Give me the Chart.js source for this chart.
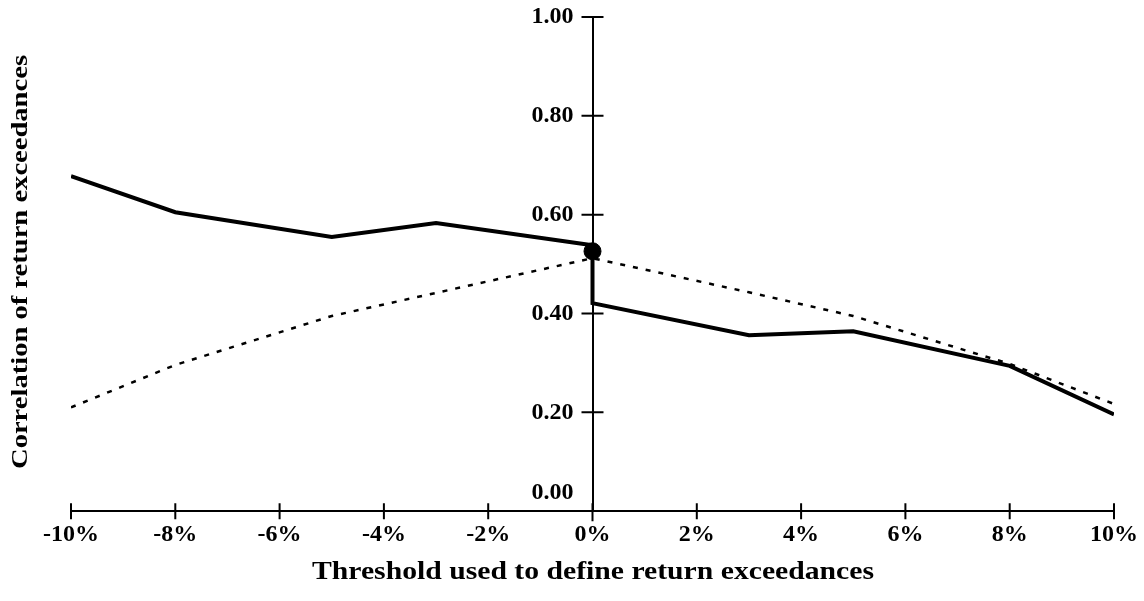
<!DOCTYPE html>
<html>
<head>
<meta charset="utf-8">
<script src="https://cdn.jsdelivr.net/npm/chart.js@4/dist/chart.umd.min.js"></script>
<style>
  html, body { margin: 0; padding: 0; background: #fff; }
  #wrap { width: 1144px; height: 601px; }
</style>
</head>
<body>
<div id="wrap"><canvas id="chart" width="1144" height="601"></canvas></div>
<script>
// data
var solidX = [-10, -8, -5, -3, 0, 0, 3, 5, 8, 10];
var solidY = [0.678, 0.605, 0.555, 0.583, 0.538, 0.421, 0.356, 0.364, 0.294, 0.196];
var dottedX = [-10, -8, -5, 0, 3, 5, 8, 10];
var dottedY = [0.21, 0.296, 0.395, 0.512, 0.443, 0.395, 0.298, 0.217];
var dotX = [0];
var dotY = [0.526];
var xTicks = [-10, -8, -6, -4, -2, 0, 2, 4, 6, 8, 10];
var yTicks = [0, 0.2, 0.4, 0.6, 0.8, 1.0];
var xTitle = 'Threshold used to define return exceedances';
var yTitle = 'Correlation of return exceedances';

var FONT = "'Liberation Serif', 'Times New Roman', serif";

function toPoints(xs, ys) {
  return xs.map(function (x, i) { return { x: x, y: ys[i] }; });
}

// the reference titles are set in a wider face, so stretch to fit
function wideText(ctx, text, x, y, width) {
  var w = ctx.measureText(text).width;
  ctx.save();
  ctx.translate(x, y);
  ctx.scale(width / w, 1);
  ctx.textAlign = 'center';
  ctx.fillText(text, 0, 0);
  ctx.restore();
}

// crossing tick marks, y labels and the axis titles
var axisDecor = {
  id: 'axisDecor',
  afterDraw: function (chart) {
    var ctx = chart.ctx;
    var xs = chart.scales.x;
    var ys = chart.scales.y;
    var x0 = xs.getPixelForValue(0);
    var yb = ys.getPixelForValue(0);
    ctx.save();
    ctx.strokeStyle = '#000';
    ctx.lineWidth = 2;
    ctx.beginPath();
    xTicks.forEach(function (v) {
      var px = xs.getPixelForValue(v);
      ctx.moveTo(px, yb - 8);
      ctx.lineTo(px, yb + 8);
    });
    yTicks.forEach(function (v) {
      var py = ys.getPixelForValue(v);
      if (v === 0) {
        ctx.moveTo(x0, py);
        ctx.lineTo(x0, py + 10);
      } else {
        ctx.moveTo(x0 - 11, py);
        ctx.lineTo(x0 + 11, py);
      }
    });
    ctx.stroke();

    ctx.fillStyle = '#000';
    ctx.font = 'bold 24px ' + FONT;
    ctx.textAlign = 'right';
    ctx.textBaseline = 'middle';
    yTicks.forEach(function (v) {
      var py = ys.getPixelForValue(v);
      if (v === 0) py -= 18;
      ctx.fillText(v.toFixed(2), x0 - 19, py);
    });

    ctx.font = 'bold 25px ' + FONT;
    wideText(ctx, xTitle, 593, 573, 562);

    ctx.translate(21, 262);
    ctx.rotate(-Math.PI / 2);
    ctx.font = 'bold 24px ' + FONT;
    wideText(ctx, yTitle, 0, 0, 414);
    ctx.restore();
  }
};

new Chart(document.getElementById('chart').getContext('2d'), {
  type: 'scatter',
  data: {
    datasets: [{
      label: 'solid',
      data: toPoints(solidX, solidY),
      showLine: true,
      borderColor: '#000',
      borderWidth: 4,
      pointRadius: 0,
      fill: false
    }, {
      label: 'dotted',
      data: toPoints(dottedX, dottedY),
      showLine: true,
      borderColor: '#000',
      borderWidth: 2.5,
      borderDash: [5, 8],
      pointRadius: 0,
      fill: false
    }, {
      label: 'dot',
      data: toPoints(dotX, dotY),
      showLine: false,
      backgroundColor: '#000',
      borderColor: '#000',
      pointRadius: 8.5,
      pointHoverRadius: 8.5
    }]
  },
  options: {
    responsive: false,
    animation: false,
    events: [],
    layout: { padding: { left: 71, right: 30, top: 17, bottom: 43 } },
    plugins: { legend: { display: false }, tooltip: { enabled: false } },
    scales: {
      x: {
        type: 'linear',
        position: 'bottom',
        min: -10,
        max: 10,
        afterBuildTicks: function (axis) {
          axis.ticks = xTicks.map(function (v) { return { value: v }; });
        },
        afterFit: function (axis) {
          axis.paddingLeft = 0;
          axis.paddingRight = 0;
        },
        grid: { display: false, drawTicks: false },
        border: { display: true, color: '#000', width: 2 },
        ticks: {
          padding: 9,
          color: '#000',
          font: { family: FONT, size: 24, weight: 'bold' },
          callback: function (v) { return v + '%'; }
        }
      },
      y: {
        type: 'linear',
        position: { x: 0 },
        min: 0,
        max: 1,
        afterBuildTicks: function (axis) {
          axis.ticks = yTicks.map(function (v) { return { value: v }; });
        },
        grid: { display: false, drawTicks: false },
        border: { display: true, color: '#000', width: 2 },
        ticks: { display: false }
      }
    }
  },
  plugins: [axisDecor]
});
</script>
</body>
</html>
